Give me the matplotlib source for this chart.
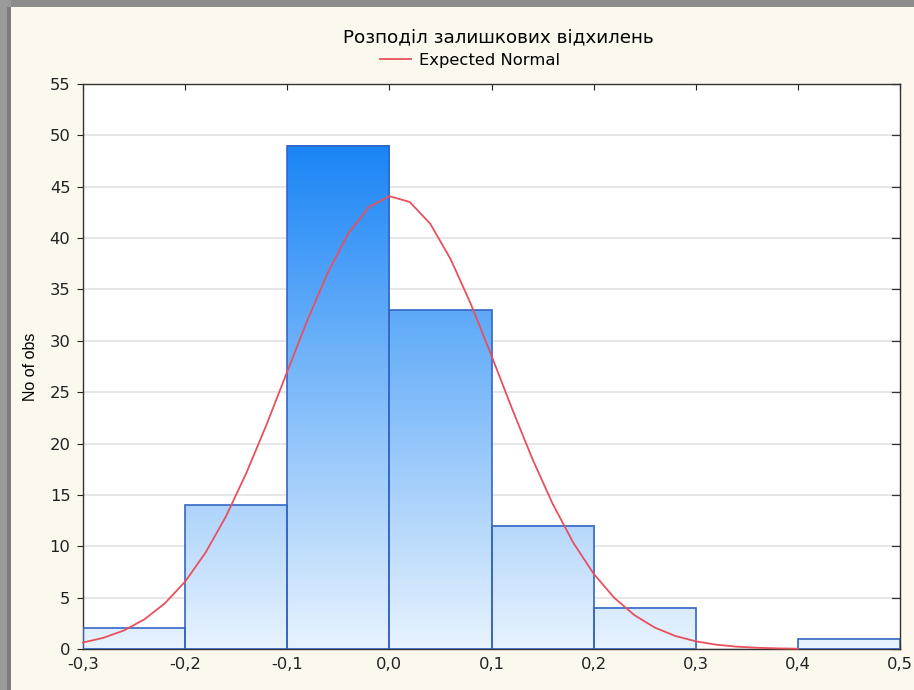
import numpy as np
import matplotlib as mpl
mpl.use('agg')
import matplotlib.pyplot as plt
from matplotlib.colors import LinearSegmentedColormap
from matplotlib.patches import Rectangle

# histogram of residuals: bin edges and counts
bin_edges = [-0.3, -0.2, -0.1, 0.0, 0.1, 0.2, 0.3, 0.4, 0.5]
counts = [2, 14, 49, 33, 12, 4, 0, 1]

# expected normal curve, sampled every 0.02
curve_x = [-0.30, -0.28, -0.26, -0.24, -0.22, -0.20, -0.18, -0.16, -0.14,
           -0.12, -0.10, -0.08, -0.06, -0.04, -0.02, 0.00, 0.02, 0.04,
           0.06, 0.08, 0.10, 0.12, 0.14, 0.16, 0.18, 0.20, 0.22, 0.24,
           0.26, 0.28, 0.30, 0.32, 0.34, 0.36, 0.38, 0.40]
curve_y = [0.63, 1.09, 1.80, 2.88, 4.43, 6.56, 9.38, 12.91, 17.14,
           21.91, 27.01, 32.07, 36.70, 40.49, 43.03, 44.08, 43.51, 41.40,
           37.95, 33.53, 28.55, 23.42, 18.52, 14.11, 10.36, 7.33, 5.00, 3.29,
           2.08, 1.27, 0.75, 0.42, 0.23, 0.12, 0.06, 0.03]

x_ticks = [-0.3, -0.2, -0.1, 0.0, 0.1, 0.2, 0.3, 0.4, 0.5]
x_labels = ["-0,3", "-0,2", "-0,1", "0,0", "0,1", "0,2", "0,3", "0,4", "0,5"]
y_ticks = list(range(0, 56, 5))

title = "Розподіл залишкових відхилень"
legend_label = "Expected Normal"
y_label = "No of obs"

plt.rcParams['font.family'] = ['DejaVu Sans']

bg = "#fcf8ee"
fig = plt.figure(figsize=(9.14, 6.90), dpi=100, facecolor=bg)
W, H = 914, 690
ax = fig.add_axes([83 / W, 1 - 649 / H, (900 - 83) / W, (649 - 84) / H])
ax.set_facecolor("white")

# window frame at the top and left edge
fig.patches.append(Rectangle((0, 1 - 7 / H), 1, 7 / H, transform=fig.transFigure,
                             facecolor="#8c8c8c", edgecolor="none", zorder=0))
fig.patches.append(Rectangle((0, 0), 11 / W, 1, transform=fig.transFigure,
                             facecolor="#9a9a9a", edgecolor="none", zorder=0))
fig.patches.append(Rectangle((7 / W, 0), 4 / W, 1 - 7 / H, transform=fig.transFigure,
                             facecolor="#7d7d7d", edgecolor="none", zorder=0))

ax.set_xlim(-0.3, 0.5)
ax.set_ylim(0, 55)
ax.yaxis.grid(True, color="#e2e2e2", linewidth=1.2)
ax.set_axisbelow(True)

# bars filled with a vertical gradient tied to the count scale
cmap = LinearSegmentedColormap.from_list("bars", ["#e8f3fe", "#1a85f6"])
vmax = max(counts)
for i, c in enumerate(counts):
    if c <= 0:
        continue
    x0, x1 = bin_edges[i], bin_edges[i + 1]
    grad = np.linspace(0, c, 200).reshape(-1, 1)
    ax.imshow(grad, extent=(x0, x1, 0, c), origin="lower", aspect="auto",
              cmap=cmap, vmin=0, vmax=vmax, zorder=2, interpolation="bilinear")
    ax.add_patch(Rectangle((x0, 0), x1 - x0, c, facecolor="none",
                           edgecolor="#3566c4", linewidth=1.2, zorder=3))
ax.set_xlim(-0.3, 0.5)
ax.set_ylim(0, 55)

line, = ax.plot(curve_x, curve_y, color="#e8505c", linewidth=1.3, zorder=4,
                clip_on=False)

ax.set_xticks(x_ticks)
ax.set_xticklabels(x_labels)
ax.set_yticks(y_ticks)
ax.tick_params(axis="both", labelsize=11.8, colors="#222222", length=4)
ax.tick_params(axis="x", direction="in", top=True, pad=6)
ax.tick_params(axis="y", direction="out", right=False, pad=5)
for t in y_ticks:
    ax.plot([0.5, 0.492], [t, t], color="#333333", linewidth=0.9,
            clip_on=False, zorder=5)
for s in ax.spines.values():
    s.set_color("#333333")
    s.set_linewidth(1.0)

ax.set_ylabel(y_label, fontsize=11.5, labelpad=8, family="Liberation Sans")

fig.text(498 / W, 1 - 37 / H, title, ha="center", va="center", fontsize=13.2)
fig.legend([line], [legend_label], loc="center", bbox_to_anchor=(470 / W, 1 - 60 / H),
           frameon=False, fontsize=11.8, handlelength=1.9, handletextpad=0.5,
           borderpad=0)

fig.savefig("out.png", dpi=100, facecolor=bg)
